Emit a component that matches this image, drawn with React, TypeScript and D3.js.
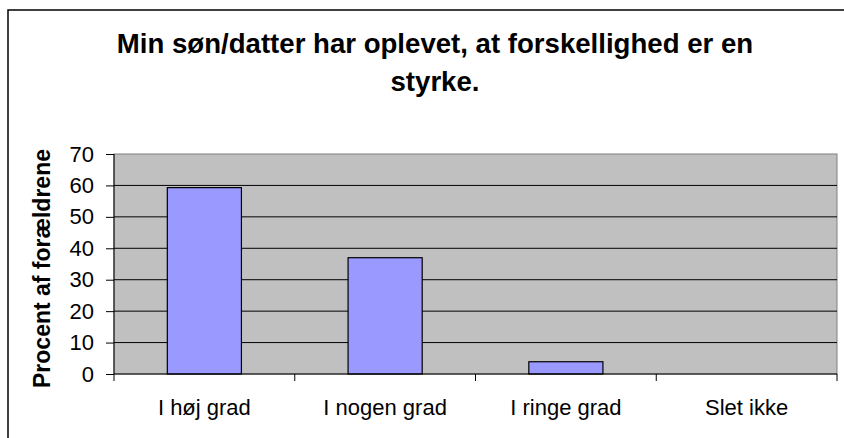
import React from "react";
import * as d3 from "d3";

const width = 844;
const height = 438;
const margin = { top: 154, right: 7, bottom: 64, left: 114 };

const categories = ["I høj grad", "I nogen grad", "I ringe grad", "Slet ikke"];
const values = [59.3, 37.0, 3.9, 0];
const yTicks = [0, 10, 20, 30, 40, 50, 60, 70];
const titleLines = ["Min søn/datter har oplevet, at forskellighed er en", "styrke."];
const yLabel = "Procent af forældrene";

const font = "Arial, 'Liberation Sans', sans-serif";

export default function App() {
  const xAxisRef = React.useRef<SVGGElement>(null);
  const yAxisRef = React.useRef<SVGGElement>(null);

  const x = d3.scaleBand().domain(categories).range([margin.left, width - margin.right]).paddingInner(0).paddingOuter(0);
  const y = d3.scaleLinear().domain([0, 70]).range([height - margin.bottom, margin.top]);
  const barW = x.bandwidth() * 0.41;

  React.useEffect(() => {
    const yAxis = d3.axisLeft(y).tickValues(yTicks).tickSize(8).tickPadding(12);
    d3.select(yAxisRef.current).call(yAxis)
      .attr("font-size", 22).attr("font-family", font)
      .call(g => g.select(".domain").remove())
      .call(g => g.selectAll("line").attr("stroke", "#000"))
      .call(g => g.selectAll("text").attr("fill", "#000"));

    const xAxis = d3.axisBottom(x).tickSize(0).tickPadding(25);
    d3.select(xAxisRef.current).call(xAxis)
      .attr("font-size", 22).attr("font-family", font)
      .call(g => g.select(".domain").remove())
      .call(g => g.selectAll("text").attr("fill", "#000"));
  }, []);

  const bottom = height - margin.bottom;
  const bounds = [...categories.map(c => x(c)!), width - margin.right];

  return (
    <svg width={width} height={height} style={{ position: "absolute", left: 0, top: 0, background: "#fff" }}>
      <rect x={8} y={10} width={900} height={500} fill="#fff" stroke="#000" strokeWidth={1.5} />
      {titleLines.map((t, i) => (
        <text key={i} x={435} y={53 + i * 38} textAnchor="middle" fontSize={27.6} fontWeight="bold"
          fontFamily={font} fill="#000">{t}</text>
      ))}
      <rect x={margin.left} y={margin.top} width={width - margin.right - margin.left} height={bottom - margin.top}
        fill="#C0C0C0" stroke="#808080" strokeWidth={1} />
      {yTicks.filter(t => t > 0 && t < 70).map(t => (
        <line key={t} x1={margin.left} x2={width - margin.right} y1={y(t)} y2={y(t)} stroke="#000" strokeWidth={1} />
      ))}
      {categories.map((c, i) => (
        <rect key={c} x={x(c)! + (x.bandwidth() - barW) / 2} y={y(values[i])} width={barW}
          height={bottom - y(values[i])} fill="#9999FF" stroke="#000" strokeWidth={1.2} />
      ))}
      <line x1={margin.left} x2={width - margin.right} y1={bottom} y2={bottom} stroke="#000" strokeWidth={1.2} />
      <line x1={margin.left} x2={margin.left} y1={margin.top} y2={bottom} stroke="#000" strokeWidth={1} />
      {bounds.map((b, i) => (
        <line key={i} x1={b} x2={b} y1={bottom} y2={bottom + 7} stroke="#000" strokeWidth={1} />
      ))}
      <g ref={yAxisRef} transform={`translate(${margin.left}, 0)`} />
      <g ref={xAxisRef} transform={`translate(0, ${bottom})`} />
      <text transform={`translate(49.5, ${(150 + 387) / 2}) rotate(-90)`} textAnchor="middle" fontSize={23}
        fontWeight="bold" fontFamily={font} fill="#000">{yLabel}</text>
    </svg>
  );
}
